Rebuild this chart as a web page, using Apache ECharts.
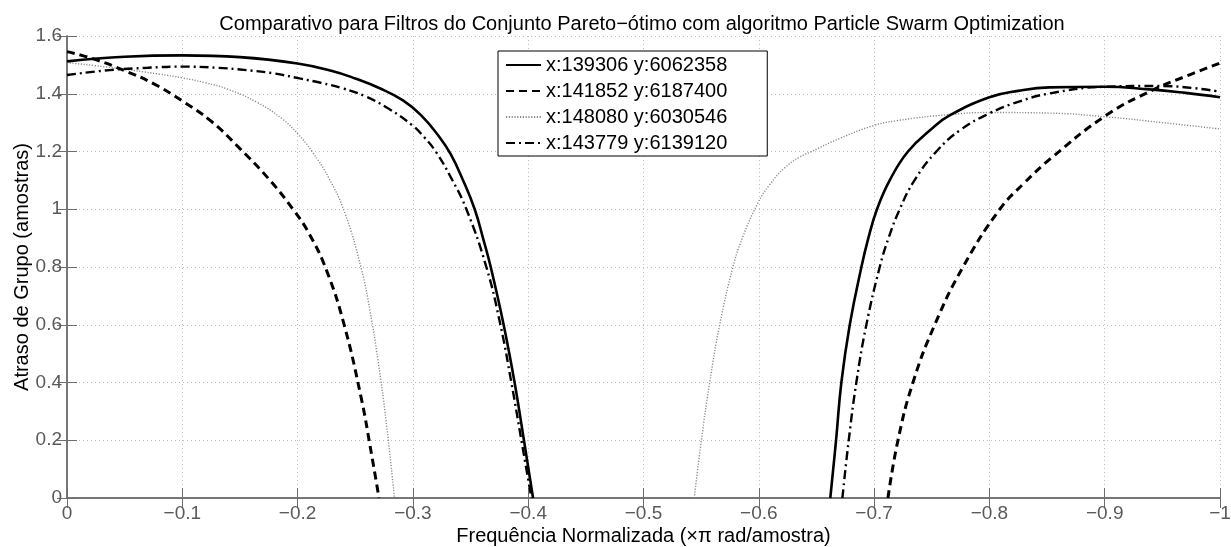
<!DOCTYPE html>
<html>
<head>
<meta charset="utf-8">
<title>Atraso de Grupo</title>
<script src="https://cdn.jsdelivr.net/npm/echarts@6/dist/echarts.min.js"></script>
<style>
  html, body { margin: 0; padding: 0; background: #fff; }
  #chart { width: 1231px; height: 547px; }
</style>
</head>
<body>
<div id="chart"></div>
<script>
// Group delay curves (normalized frequency, delay in samples) for four PSO filters
const seriesNames = [
  'x:139306 y:6062358',
  'x:141852 y:6187400',
  'x:148080 y:6030546',
  'x:143779 y:6139120'
];

// x:139306 y:6062358 — left lobe, then right lobe
const delayA_left = [
  [0, 1.512], [-0.05, 1.528], [-0.1, 1.533], [-0.15, 1.527], [-0.2, 1.505],
  [-0.23, 1.479], [-0.25, 1.453], [-0.2707, 1.42], [-0.2914, 1.377], [-0.307, 1.326],
  [-0.3225, 1.253], [-0.3329, 1.19], [-0.3432, 1.103], [-0.3536, 1.0], [-0.3608, 0.9],
  [-0.3675, 0.8], [-0.3787, 0.6], [-0.3882, 0.4], [-0.3963, 0.2], [-0.4042, 0]
];
const delayA_right = [
  [-0.662, 0], [-0.667, 0.2], [-0.6716, 0.4], [-0.6789, 0.6], [-0.689, 0.8],
  [-0.695, 0.9], [-0.7025, 1.0], [-0.7135, 1.1], [-0.7294, 1.2], [-0.751, 1.282],
  [-0.7655, 1.325], [-0.8, 1.388], [-0.825, 1.41], [-0.852, 1.422], [-0.899, 1.424],
  [-0.939, 1.415], [-0.97, 1.403], [-1.0, 1.388]
];

// x:141852 y:6187400
const delayB_left = [
  [0, 1.546], [-0.025, 1.518], [-0.05, 1.48], [-0.075, 1.435], [-0.1, 1.375],
  [-0.125, 1.305], [-0.15, 1.21], [-0.175, 1.105], [-0.196, 1.0], [-0.2105, 0.912],
  [-0.2254, 0.785], [-0.2403, 0.601], [-0.2553, 0.344], [-0.2627, 0.184], [-0.2706, 0]
];
const delayB_right = [
  [-0.712, 0], [-0.7207, 0.2], [-0.7337, 0.4], [-0.7526, 0.6], [-0.7771, 0.8],
  [-0.809, 1.0], [-0.83, 1.09], [-0.853, 1.175], [-0.9015, 1.326], [-0.9419, 1.413],
  [-0.97, 1.46], [-1.0, 1.506]
];

// x:148080 y:6030546
const delayC_left = [
  [0, 1.508], [-0.04, 1.49], [-0.08, 1.468], [-0.1, 1.455], [-0.12, 1.438],
  [-0.14, 1.415], [-0.165, 1.37], [-0.187, 1.312], [-0.2, 1.262], [-0.2125, 1.2],
  [-0.2268, 1.11], [-0.2411, 0.986], [-0.2555, 0.79], [-0.2627, 0.65], [-0.2697, 0.477],
  [-0.2769, 0.262], [-0.284, 0]
];
const delayC_right = [
  [-0.544, 0], [-0.5502, 0.2], [-0.5574, 0.4], [-0.5661, 0.6], [-0.5776, 0.8],
  [-0.5857, 0.9], [-0.599, 1.02], [-0.6094, 1.085], [-0.6224, 1.143], [-0.6355, 1.181],
  [-0.6458, 1.2], [-0.67, 1.245], [-0.699, 1.289], [-0.72, 1.307], [-0.7655, 1.328],
  [-0.8, 1.335], [-0.852, 1.333], [-0.9015, 1.32], [-0.95, 1.3], [-1.0, 1.278]
];

// x:143779 y:6139120
const delayD_left = [
  [0, 1.465], [-0.037, 1.482], [-0.07, 1.49], [-0.1, 1.494], [-0.13, 1.49],
  [-0.1556, 1.482], [-0.18, 1.47], [-0.2018, 1.453], [-0.22, 1.438], [-0.239, 1.419],
  [-0.2593, 1.39], [-0.2794, 1.347], [-0.2997, 1.29], [-0.3097, 1.25], [-0.3198, 1.2],
  [-0.3331, 1.109], [-0.3464, 1.0], [-0.3637, 0.8], [-0.3759, 0.6], [-0.3854, 0.4],
  [-0.3941, 0.2], [-0.4028, 0]
];
const delayD_right = [
  [-0.6725, 0], [-0.678, 0.2], [-0.6846, 0.4], [-0.6933, 0.6], [-0.7049, 0.8],
  [-0.7125, 0.9], [-0.7222, 1.0], [-0.735, 1.1], [-0.754, 1.2], [-0.775, 1.275],
  [-0.8, 1.332], [-0.825, 1.372], [-0.852, 1.401], [-0.899, 1.424], [-0.948, 1.427],
  [-1.0, 1.407]
];

const yTicks = [0, 0.2, 0.4, 0.6, 0.8, 1, 1.2, 1.4, 1.6];

const FONT = '"Liberation Sans", Arial, Helvetica, sans-serif';
const AXIS_GRAY = '#6e6e6e';
const LABEL_GRAY = '#5a5a5a';

// join two lobes with a break between them
function lobes(left, right) {
  return left.concat([[null, null]], right);
}

const styles = [
  { color: '#000', width: 2.6, type: 'solid' },
  { color: '#000', width: 3, type: [8, 5] },
  { color: '#8a8a8a', width: 1.4, type: [1.2, 1.6] },
  { color: '#000', width: 2.4, type: [9, 4, 2, 4] }
];
const datasets = [
  lobes(delayA_left, delayA_right),
  lobes(delayB_left, delayB_right),
  lobes(delayC_left, delayC_right),
  lobes(delayD_left, delayD_right)
];

function freqLabel(v) {
  const r = Math.round(v * 10) / 10;
  return r === 0 ? '0' : '\u2212' + Math.abs(r);
}

const chart = echarts.init(document.getElementById('chart'), null, { renderer: 'canvas' });

const baseX = {
  type: 'value', min: -1, max: 0, interval: 0.1, inverse: true
};
const baseY = {
  type: 'value', min: 0, max: 1.6, interval: 0.2
};

chart.setOption({
  animation: false,
  backgroundColor: '#fff',
  title: {
    text: 'Comparativo para Filtros do Conjunto Pareto\u2212ótimo com algoritmo Particle Swarm Optimization',
    left: 637, textAlign: 'center', top: 9,
    textStyle: { fontFamily: FONT, fontSize: 20, fontWeight: 'normal', color: '#000' }
  },
  legend: {
    orient: 'vertical',
    left: 498, top: 51,
    backgroundColor: '#fff',
    borderColor: '#000', borderWidth: 1,
    padding: [4, 40, 3, 7],
    itemWidth: 35, itemHeight: 14, itemGap: 6,
    itemStyle: { opacity: 0 },
    textStyle: { fontFamily: FONT, fontSize: 20, color: '#000', lineHeight: 20 },
    data: seriesNames
  },
  grid: { left: 67, right: 11, top: 36, bottom: 49, containLabel: false, outerBoundsMode: 'none' },
  xAxis: [
    Object.assign({}, baseX, {
      position: 'bottom',
      name: 'Frequência Normalizada (×π rad/amostra)',
      nameLocation: 'middle', nameGap: 28, nameMoveOverlap: false,
      nameTextStyle: { fontFamily: FONT, fontSize: 20, color: '#000' },
      axisLine: { lineStyle: { color: AXIS_GRAY, width: 1.5 } },
      axisTick: { inside: true, length: 10, lineStyle: { color: AXIS_GRAY, width: 1 } },
      axisLabel: { formatter: freqLabel, margin: 6, fontFamily: FONT, fontSize: 19, color: LABEL_GRAY },
      splitLine: { show: true, lineStyle: { color: '#bdbdbd', width: 1, type: [1, 3] } }
    }),
    Object.assign({}, baseX, {
      position: 'top',
      axisLine: { lineStyle: { color: AXIS_GRAY, width: 1.5 } },
      axisTick: { inside: true, length: 10, lineStyle: { color: AXIS_GRAY, width: 1 } },
      axisLabel: { show: false },
      splitLine: { show: false }
    })
  ],
  yAxis: [
    Object.assign({}, baseY, {
      position: 'left',
      name: 'Atraso de Grupo (amostras)',
      nameLocation: 'middle', nameGap: 35, nameRotate: 90, nameMoveOverlap: false,
      nameTextStyle: { fontFamily: FONT, fontSize: 20, color: '#000' },
      axisLine: { show: true, lineStyle: { color: AXIS_GRAY, width: 1.5 } },
      axisTick: { show: true, inside: true, length: 10, lineStyle: { color: AXIS_GRAY, width: 1 } },
      axisLabel: {
        margin: 5, fontFamily: FONT, fontSize: 19, color: LABEL_GRAY,
        formatter: v => String(yTicks.find(t => Math.abs(t - v) < 1e-6) ?? v)
      },
      splitLine: { show: true, lineStyle: { color: '#bdbdbd', width: 1, type: [1, 3] } }
    }),
    Object.assign({}, baseY, {
      position: 'right',
      axisLine: { show: true, lineStyle: { color: AXIS_GRAY, width: 1.5 } },
      axisTick: { show: true, inside: true, length: 10, lineStyle: { color: AXIS_GRAY, width: 1 } },
      axisLabel: { show: false },
      splitLine: { show: false }
    })
  ],
  series: seriesNames.map((name, i) => ({
    name,
    type: 'line',
    xAxisIndex: 0,
    yAxisIndex: 0,
    data: datasets[i],
    symbol: 'none',
    showSymbol: false,
    smooth: 0.45,
    connectNulls: false,
    clip: true,
    color: styles[i].color,
    lineStyle: { color: styles[i].color, width: styles[i].width, type: styles[i].type },
    z: 3 + (i === 2 ? 0 : 1)
  }))
});
</script>
</body>
</html>
